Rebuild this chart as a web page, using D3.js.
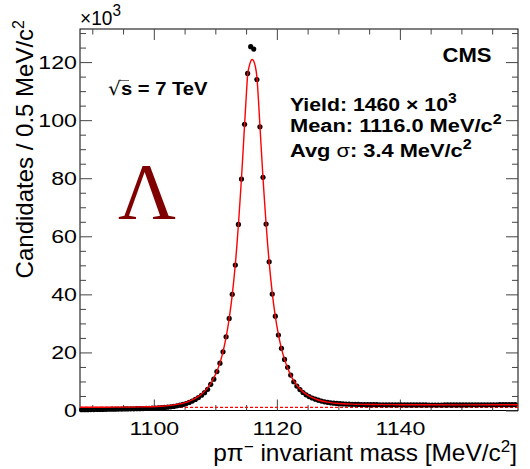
<!DOCTYPE html>
<html><head><meta charset="utf-8">
<script src="https://cdn.jsdelivr.net/npm/d3@7"></script>
<style>
body{margin:0;background:#fff;}
svg text{font-family:"Liberation Sans",Arial,Helvetica,sans-serif;}
</style>
</head><body>
<svg id="chart" width="530" height="469"></svg>
<script>
// ---------------- data ----------------
const massLow = 1088;          // MeV/c^2, lower edge of first bin
const binWidth = 0.5;          // MeV/c^2
// candidates per bin, in units of 10^3
const counts = [
  0.26,0.28,0.28,0.31,0.33,0.34,0.37,0.38,0.41,0.43,0.44,0.47,0.49,0.50,0.53,0.55,0.56,0.59,0.62,0.64,0.68,0.71,0.74,0.79,
  0.84,0.90,0.97,1.05,1.15,1.28,1.42,1.60,1.82,2.08,2.40,2.78,3.25,3.80,4.45,5.25,6.15,7.30,9.0,10.8,13.4,16.3,20.2,25.4,
  31.7,40.0,50.1,64.1,79.7,98.6,116.1,125.3,124.5,114.0,97.7,80.3,64.2,51.2,40.1,32.5,26.0,21.4,17.6,14.9,12.2,9.9,8.4,7.2,
  6.2,5.4,4.8,4.3,3.9,3.55,3.25,3.0,2.8,2.65,2.52,2.42,2.34,2.28,2.22,2.18,2.14,2.11,2.08,2.06,2.04,2.02,2.01,2.0,
  1.99,1.98,1.97,1.97,1.96,1.95,1.95,1.94,1.94,1.93,1.93,1.92,1.92,1.92,1.91,1.91,1.91,1.90,1.90,1.90,1.90,1.90,1.91,1.91,
  1.91,1.92,1.92,1.92,1.93,1.93,1.94,1.94,1.95,1.95,1.96,1.96,1.97,1.97,1.98,1.98,1.99,2.0,2.0,2.01,2.02,2.03
];
// fitted curve (signal + background)
const fitMass = [1088,1094,1098,1101,1103,1104.5,1105.5,1106.5,1107.5,1108.5,1109.25,1109.75,1110.25,1110.75,1111.25,1111.75,1112.25,1112.75,1113,1113.25,1113.5,1113.75,1114,1114.25,1114.5,1114.75,1115,1115.25,1115.5,1115.75,1116,
  1116.25,1116.5,1116.75,1117,1117.25,1117.5,1117.75,1118,1118.25,1118.5,1118.75,1119,1119.25,1119.75,1120.25,1120.75,1121.25,1121.75,1122.25,1122.75,1123.5,1124.5,1125.5,1126.5,1127.5,1128.5,1130,1132,1135,1140,1150,1159.2];
const fitValue = [1.1,1.15,1.25,1.45,1.85,2.35,3.0,3.9,5.2,7.2,9.3,11.2,13.5,16.4,20.3,25.3,31.6,39.8,44.8,50.3,56.8,64,71.8,80,89,98.3,107.3,115.5,118.5,120.3,120.9,
  120.3,118.5,115,107.3,98,89,80,72,64.3,57.3,51,45.5,40.5,32.4,26.2,21.3,17.6,14.6,12.2,10.2,8.0,6.0,4.7,3.8,3.2,2.8,2.4,2.2,2.05,2.0,1.95,1.98];
// background component (dashed)
const bgMass = [1088, 1159.2];
const bgValue = [1.05, 1.05];

const xTicks = [1100, 1120, 1140];
const xTickLabels = ["1100", "1120", "1140"];
const xMinorTicks = [1090,1095,1105,1110,1115,1125,1130,1135,1145,1150,1155];
const yTicks = [0, 20, 40, 60, 80, 100, 120];
const yTickLabels = ["0", "20", "40", "60", "80", "100", "120"];
const yMinorTicks = [5,10,15,25,30,35,45,50,55,65,70,75,85,90,95,105,110,115,125,130];

// ---------------- layout ----------------
const L = 80, R = 518, T = 29, B = 410.5;
const svg = d3.select("#chart");
const x = d3.scaleLinear().domain([1088, 1159.2]).range([L, R]);
const y = d3.scaleLinear().domain([0, 131.4]).range([B, T]);

function stretch(sel, sx, ax, ay) {
  sel.attr("transform", `translate(${ax},${ay}) scale(${sx},1) translate(${-ax},${-ay})`);
}
function fitWidth(sel, target, ax, ay) {
  const w = sel.node().getBBox().width;
  stretch(sel, target / w, ax, ay);
}

// frame
svg.append("rect").attr("x", L).attr("y", T).attr("width", R - L).attr("height", B - T)
  .attr("fill", "none").attr("stroke", "#000").attr("stroke-width", 1);

function clean(g) { g.select(".domain").remove(); g.attr("font-family", null).attr("font-size", null); g.attr("color", "#444"); }

// bottom axis
const gx = svg.append("g").attr("transform", `translate(0,${B})`)
  .call(d3.axisBottom(x).tickValues(xTicks).tickSize(-11).tickPadding(11).tickFormat((d, i) => xTickLabels[i]))
  .call(clean);
gx.selectAll("text").attr("fill", "#000").style("font-size", "19px").attr("transform", "scale(1.22,1)");
svg.append("g").attr("transform", `translate(0,${B})`)
  .call(d3.axisBottom(x).tickValues(xMinorTicks).tickSize(-5.5).tickFormat(""))
  .call(clean);
// top axis
svg.append("g").attr("transform", `translate(0,${T})`)
  .call(d3.axisTop(x).tickValues(xTicks).tickSize(-11).tickFormat("")).call(clean);
svg.append("g").attr("transform", `translate(0,${T})`)
  .call(d3.axisTop(x).tickValues(xMinorTicks).tickSize(-5.5).tickFormat("")).call(clean);
// left axis
const gy = svg.append("g").attr("transform", `translate(${L},0)`)
  .call(d3.axisLeft(y).tickValues(yTicks).tickSize(-12).tickPadding(2.5).tickFormat((d, i) => yTickLabels[i]))
  .call(clean);
gy.selectAll("text").attr("fill", "#000").style("font-size", "19px").attr("transform", "scale(1.22,1)");
svg.append("g").attr("transform", `translate(${L},0)`)
  .call(d3.axisLeft(y).tickValues(yMinorTicks).tickSize(-6).tickFormat("")).call(clean);
// right axis
svg.append("g").attr("transform", `translate(${R},0)`)
  .call(d3.axisRight(y).tickValues(yTicks).tickSize(-12).tickFormat("")).call(clean);
svg.append("g").attr("transform", `translate(${R},0)`)
  .call(d3.axisRight(y).tickValues(yMinorTicks).tickSize(-6).tickFormat("")).call(clean);

// background dashed
svg.append("path").datum(bgMass.map((m, i) => [m, bgValue[i]]))
  .attr("fill", "none").attr("stroke", "#ff0000").attr("stroke-width", 1.2).attr("stroke-dasharray", "3,2")
  .attr("d", d3.line().x(d => x(d[0])).y(d => y(d[1])));

// data points
const pts = counts.map((c, i) => [massLow + (i + 0.5) * binWidth, c]);
svg.append("g").selectAll("circle").data(pts).join("circle")
  .attr("cx", d => x(d[0])).attr("cy", d => y(d[1])).attr("r", 2.6).attr("fill", "#000");

// fit curve
svg.append("path").datum(fitMass.map((m, i) => [m, fitValue[i]]))
  .attr("fill", "none").attr("stroke", "#f00").attr("stroke-width", 1.4)
  .attr("d", d3.line().curve(d3.curveMonotoneX).x(d => x(d[0])).y(d => y(d[1])));

// ---------------- texts ----------------
// x10^3
const t103 = svg.append("text").attr("x", 80).attr("y", 25).style("font-size", "20px");
t103.append("tspan").text("×10");
t103.append("tspan").attr("dy", -9).style("font-size", "16px").text("3");
fitWidth(t103, 41, 80, 25);

// x-axis title
const xt = svg.append("text").attr("x", 517).attr("y", 461).attr("text-anchor", "end").style("font-size", "23px");
xt.append("tspan").text("pπ");
xt.append("tspan").attr("dy", -9).style("font-size", "16px").text("−");
xt.append("tspan").attr("dy", 9).text(" invariant mass [MeV/c");
xt.append("tspan").attr("dy", -9).style("font-size", "16px").text("2");
xt.append("tspan").attr("dy", 9).text("]");
fitWidth(xt, 304, 517, 461);

// y-axis title
const yg = svg.append("g").attr("transform", "translate(33,20) rotate(-90)");
const yt = yg.append("text").attr("x", 0).attr("y", 0).attr("text-anchor", "end").style("font-size", "24px");
yt.append("tspan").text("Candidates / 0.5 MeV/c");
yt.append("tspan").attr("dy", -9).style("font-size", "16px").text("2");

// CMS
const cms = svg.append("text").attr("x", 491.5).attr("y", 61.7).attr("text-anchor", "end")
  .style("font-size", "21px").style("font-weight", "bold").text("CMS");
fitWidth(cms, 49, 491.5, 61.7);

// info block
const infoX = 290;
const yl = svg.append("text").attr("x", infoX).attr("y", 111).style("font-size", "19px").style("font-weight", "bold");
yl.append("tspan").text("Yield: 1460 × 10");
yl.append("tspan").attr("dy", -8).style("font-size", "14px").text("3");
fitWidth(yl, 167, infoX, 111);
const mn = svg.append("text").attr("x", infoX).attr("y", 132).style("font-size", "19px").style("font-weight", "bold");
mn.append("tspan").text("Mean: 1116.0 MeV/c");
mn.append("tspan").attr("dy", -8).style("font-size", "14px").text("2");
fitWidth(mn, 212, infoX, 132);
const av = svg.append("text").attr("x", infoX).attr("y", 157).style("font-size", "19px").style("font-weight", "bold");
av.append("tspan").text("Avg ");
av.append("tspan").style("font-weight", "normal").text("σ");
av.append("tspan").text(": 3.4 MeV/c");
av.append("tspan").attr("dy", -8).style("font-size", "14px").text("2");
fitWidth(av, 182, infoX, 157);

// sqrt(s) = 7 TeV
const sq = svg.append("text").attr("x", 108).attr("y", 95).style("font-size", "19px").style("font-weight", "bold");
sq.append("tspan").style("font-weight", "normal").style("font-family", "DejaVu Sans").text("√");
sq.append("tspan").text("s = 7 TeV");
fitWidth(sq, 100, 108, 95);
svg.append("line").attr("x1", 118.5).attr("x2", 129).attr("y1", 80.5).attr("y2", 80.5)
  .attr("stroke", "#444").attr("stroke-width", 0.8);

// Lambda
svg.append("text").attr("x", 147).attr("y", 219).attr("text-anchor", "middle")
  .style("font-family", "'Liberation Serif','Times New Roman',serif").style("font-size", "80px")
  .attr("fill", "#800000").text("Λ");
</script>
</body></html>
